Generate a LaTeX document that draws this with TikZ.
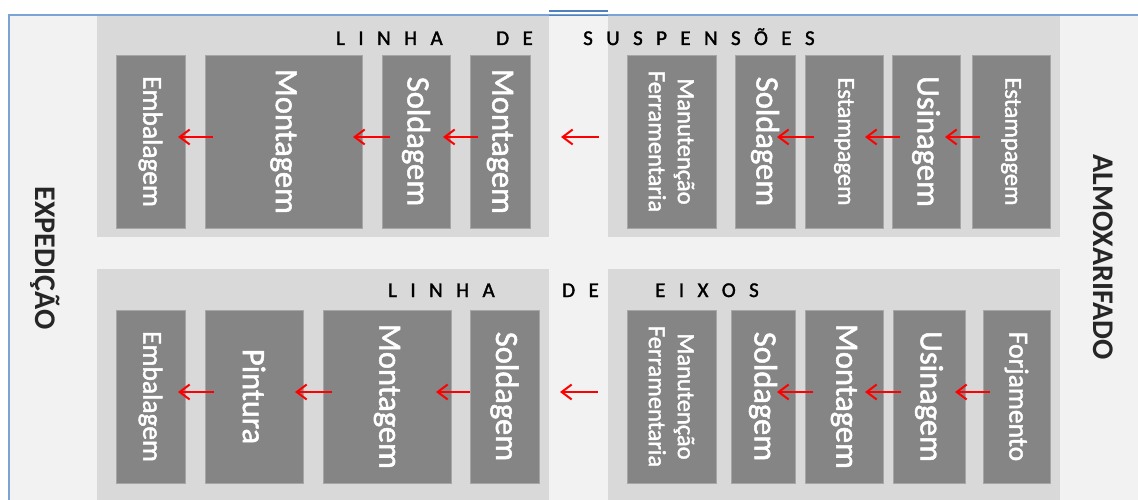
\documentclass[tikz,border=0pt]{standalone}
\usepackage{fontspec}
\setmainfont{Carlito}
\newfontfamily\heavyface{Carlito}[FakeBold=1.6]
\usetikzlibrary{arrows.meta,calc}

\definecolor{pagebg}{HTML}{F2F2F2}
\definecolor{bandgray}{HTML}{D9D9D9}
\definecolor{stagegray}{HTML}{858585}
\definecolor{stageedge}{HTML}{A6A6A6}
\definecolor{frameblue}{HTML}{7BA3D6}
\definecolor{markblue}{HTML}{4F81BD}
\definecolor{flowred}{HTML}{FF0000}

% letter spacing for the line titles
\newcommand\gp{\hspace{13.4pt}}
\newcommand\fsz[2]{\fontsize{#1}{#2}\selectfont}

% a grey band: name, x1, y1, x2, y2
\newcommand\band[5]{%
  \node[bandbox, minimum width={#4-#2}, minimum height={#5-#3}] (#1) at ({(#2+#4)/2},{(#3+#5)/2}) {};}
% a process stage: name, x1, y1, x2, y2, text style, text
\newcommand\stage[7]{%
  \node[stagebox, minimum width={#4-#2}, minimum height={#5-#3}] (#1) at ({(#2+#4)/2},{(#3+#5)/2}) {};
  \node[stagetext, #6] (#1-label) at (#1.center) {#7};}

\tikzset{
  bandbox/.style={fill=bandgray, draw=none, inner sep=0pt, outer sep=0pt},
  stagebox/.style={fill=stagegray, draw=stageedge, line width=0.6pt, inner sep=0pt, outer sep=0pt},
  stagetext/.style={rotate=-90, text=white, align=center, inner sep=0pt},
  bigtext/.style={font=\heavyface\fsz{32.5}{39}},
  midtext/.style={font=\heavyface\fsz{27.5}{33}},
  smalltext/.style={font=\heavyface\fsz{24.5}{29}},
  titletext/.style={font=\heavyface\fsz{21}{25}, text=black, inner sep=0pt, anchor=base west},
  sidetext/.style={font=\bfseries\fsz{30}{36}, text=black!85, rotate=-90, inner sep=0pt},
  flow/.style={draw=flowred, line width=2pt, -{Straight Barb[length=10pt,width=15pt]}},
}

\begin{document}
\begin{tikzpicture}[x=1pt, y=-1pt]
\useasboundingbox (0,0) rectangle (1138,500);

% frame
\fill[pagebg] (9,15) rectangle (1138,500);
\draw[frameblue, line width=1.5pt] (9,500) -- (9,15) -- (1138,15);
\draw[markblue, line width=1.5pt] (549,11) -- (608,11);
\draw[markblue, line width=1.2pt] (549,15.5) -- (608,15.5);

% bands
\band{tl}{97}{16}{549}{237}
\band{tr}{608}{16}{1060}{237}
\band{bl}{97}{269}{549}{500}
\band{br}{608}{269}{1060}{500}

% line titles
\node[titletext] (t1) at (336,45) {L\gp I\gp N\gp H\gp A};
\node[titletext] (t2) at (496,45) {D\gp E};
\node[titletext] (t3) at (583,45) {S\gp U\gp S\gp P\gp E\gp N\gp S\gp Õ\gp E\gp S};
\node[titletext] (b1) at (388,297) {L\gp I\gp N\gp H\gp A};
\node[titletext] (b2) at (562,297) {D\gp E};
\node[titletext] (b3) at (655,297) {E\gp I\gp X\gp O\gp S};

% upper line: suspensions
\stage{s1}{116}{55}{185}{228}{midtext}{Embalagem}
\stage{s2}{205}{55}{362}{228}{bigtext}{Montagem}
\stage{s3}{382}{55}{450}{228}{bigtext}{Soldagem}
\stage{s4}{470}{55}{530}{228}{bigtext}{Montagem}
\stage{s5}{627}{55}{716}{228}{smalltext}{Manutenção\\Ferramentaria}
\stage{s6}{735}{55}{795}{228}{bigtext}{Soldagem}
\stage{s7}{805}{55}{883}{228}{smalltext}{Estampagem}
\stage{s8}{892}{55}{960}{228}{bigtext}{Usinagem}
\stage{s9}{972}{55}{1050}{228}{smalltext}{Estampagem}

% lower line: axles
\stage{e1}{116}{310}{185}{483}{midtext}{Embalagem}
\stage{e2}{205}{310}{303}{483}{bigtext}{Pintura}
\stage{e3}{323}{310}{451}{483}{bigtext}{Montagem}
\stage{e4}{470}{310}{539}{483}{bigtext}{Soldagem}
\stage{e5}{627}{310}{716}{483}{smalltext}{Manutenção\\Ferramentaria}
\stage{e6}{731}{310}{795}{483}{bigtext}{Soldagem}
\stage{e7}{805}{310}{883}{483}{bigtext}{Montagem}
\stage{e8}{893}{310}{965}{483}{bigtext}{Usinagem}
\stage{e9}{983}{310}{1050}{483}{midtext}{Forjamento}

% side areas
\node[sidetext] (expedicao) at (45,258) {EXPEDIÇÃO};
\node[sidetext] (almox) at (1103,257) {ALMOXARIFADO};

% material flow, upper line
\draw[flow] ($(s2.west)+(8,-4.5)$) -- ($(s1.east)+(-7,-4.5)$);
\draw[flow] ($(s3.west)+(8,-4.5)$) -- ($(s2.east)+(-9,-4.5)$);
\draw[flow] ($(s4.west)+(8,-4.5)$) -- ($(s3.east)+(-7,-4.5)$);
\draw[flow] ($(s5.west)+(-28,-4.5)$) -- ($(s4.east)+(31,-4.5)$);
\draw[flow] ($(s7.west)+(9,-4.5)$) -- ($(s6.east)+(-18,-4.5)$);
\draw[flow] ($(s8.west)+(8,-4.5)$) -- ($(s7.east)+(-18,-4.5)$);
\draw[flow] ($(s9.west)+(8,-4.5)$) -- ($(s8.east)+(-15,-4.5)$);

% material flow, lower line
\draw[flow] ($(e2.west)+(9,-4.5)$) -- ($(e1.east)+(-7,-4.5)$);
\draw[flow] ($(e3.west)+(9,-4.5)$) -- ($(e2.east)+(-8,-4.5)$);
\draw[flow] (e4.west |- {$(e4.center)+(0,-4.5)$}) -- ($(e3.east)+(-15,-4.5)$);
\draw[flow] ($(e5.west)+(-29,-4.5)$) -- ($(e4.east)+(21,-4.5)$);
\draw[flow] ($(e7.west)+(8,-4.5)$) -- ($(e6.east)+(-18,-4.5)$);
\draw[flow] ($(e8.west)+(8,-4.5)$) -- ($(e7.east)+(-18,-4.5)$);
\draw[flow] ($(e9.west)+(7,-4.5)$) -- ($(e8.east)+(-10,-4.5)$);
\end{tikzpicture}
\end{document}
